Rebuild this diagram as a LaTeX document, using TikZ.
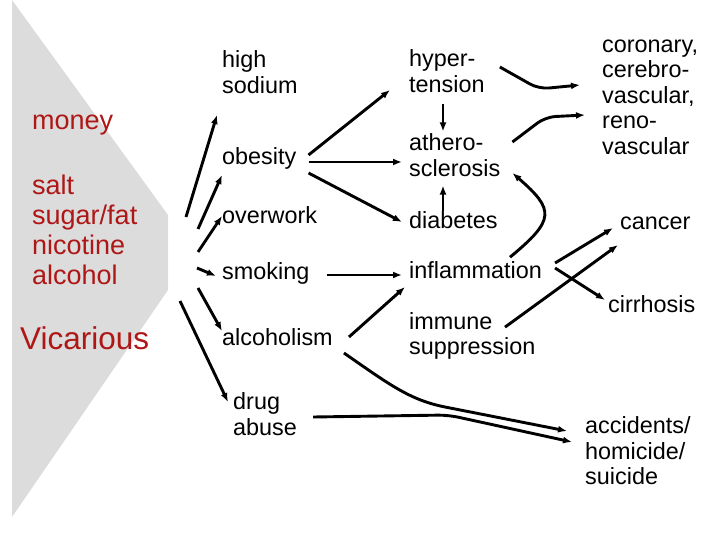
\documentclass[tikz,border=0pt]{standalone}
\usepackage{fontspec}
\setmainfont{Liberation Sans}
\usetikzlibrary{arrows.meta}
\definecolor{vred}{RGB}{175,22,22}
\definecolor{wedge}{RGB}{220,220,220}

\begin{document}
\begin{tikzpicture}[x=1pt,y=-1pt,
    lbl/.style={anchor=west, inner sep=0pt, align=left, font=\fontsize{23.4}{25.5}\selectfont},
    cause/.style={anchor=west, inner sep=0pt, align=left, text=vred, font=\fontsize{27}{30}\selectfont},
    arr/.style={line width=2.9pt, -{Latex[length=9pt,width=7pt]}}]

        \useasboundingbox (0,0) rectangle (720,540);

        % Grey wedge on the left
        \coordinate (rim) at (168,215);
        \fill[wedge] (12,0) -- (rim) -- (168,290) -- (12,517) -- cycle;

        % Red causes
        \node[cause] (money) at (32,125) {money};
        \node[cause] (causes) at (32,230) {salt\\sugar/fat\\nicotine\\alcohol};
        \node[cause, font=\fontsize{31.5}{34}\selectfont] (vicarious) at (20,338) {Vicarious};

        % First column: behaviours
        \node[lbl] (sodium) at (222,72) {high\\sodium};
        \node[lbl] (obesity) at (222,158) {obesity};
        \node[lbl] (overwork) at (222,215) {overwork};
        \node[lbl] (smoking) at (222,273) {smoking};
        \node[lbl] (alcoholism) at (222,337) {alcoholism};
        \node[lbl] (drugs) at (233,414) {drug\\abuse};

        % Second column: conditions
        \node[lbl] (hyper) at (409,71) {hyper-\\tension};
        \node[lbl] (athero) at (409,155) {athero-\\sclerosis};
        \node[lbl] (diabetes) at (409,220) {diabetes};
        \node[lbl] (inflam) at (409,270) {inflammation};
        \node[lbl] (immune) at (409,336) {immune\\suppression};

        % Third column: outcomes
        \node[lbl] (cvd) at (602,97) {coronary,\\cerebro-\\vascular,\\reno-\\vascular};
        \node[lbl] (cancer) at (620,223) {cancer};
        \node[lbl] (cirrhosis) at (608,304) {cirrhosis};
        \node[lbl] (accidents) at (585,451) {accidents/\\homicide/\\suicide};

        % Fan out of the wedge
        \draw[arr] ([shift={(18,2)}]rim) -- ([shift={(-5,43)}]sodium.west);
        \draw[arr] ([shift={(30,14)}]rim) -- ([shift={(0,17)}]obesity.west);
        \draw[arr] ([shift={(30,37)}]rim) -- ([shift={(0,1)}]overwork.west);
        \draw[arr] ([shift={(29,53)}]rim) -- ([shift={(-6,3)}]smoking.west);
        \draw[arr] ([shift={(30,73)}]rim) -- ([shift={(0,-6)}]alcoholism.west);
        \draw[arr] ([shift={(12,86)}]rim) -- ([shift={(-5,-12)}]drugs.west);

        % Behaviours to conditions
        \draw[arr] ([shift={(12,-3)}]obesity.east) -- ([shift={(-19,19)}]hyper.west);
        \draw[arr] ([shift={(12,4)}]obesity.east) -- ([shift={(-7,7)}]athero.west);
        \draw[arr] ([shift={(12,15)}]obesity.east) -- ([shift={(-7,2)}]diabetes.west);
        \draw[arr] ([shift={(17,2)}]smoking.east) -- ([shift={(-7,5)}]inflam.west);
        \draw[arr] ([shift={(16,0)}]alcoholism.east) -- ([shift={(-4,17)}]inflam.west);

        % Between conditions
        \draw[arr] ([shift={(34,11)}]hyper.south west) -- ([shift={(34,-2)}]athero.north west);
        \draw[arr] ([shift={(34,0)}]diabetes.north west) -- ([shift={(34,9)}]athero.south west);
        \draw[arr] ([shift={(101,-4)}]inflam.north west) .. controls (555,220) and (555,210) .. ([shift={(12,18)}]athero.east);

        % Conditions to outcomes
        \draw[arr, rounded corners=10pt] ([shift={(15,-4)}]hyper.east) -- ++(39,22) -- ([shift={(-22,-12)}]cvd.west);
        \draw[arr, rounded corners=10pt] ([shift={(12,-13)}]athero.east) -- ++(33,-25) -- ([shift={(-17,18)}]cvd.west);
        \draw[arr] ([shift={(13,-7)}]inflam.east) -- ([shift={(-7,5)}]cancer.west);
        \draw[arr] ([shift={(13,-2)}]inflam.east) -- ([shift={(-3,-4)}]cirrhosis.west);
        \draw[arr] ([shift={(96,15)}]immune.north west) -- ([shift={(-2,22)}]cancer.west);
        \draw[arr] ([shift={(11,16)}]alcoholism.east) .. controls (390,385) and (410,400) .. (445,407) -- ([shift={(-18,-20)}]accidents.west);
        \draw[arr, rounded corners=10pt] ([shift={(16,3)}]drugs.east) -- ++(135,-2) -- ([shift={(-13,-9)}]accidents.west);

    \end{tikzpicture}
\end{document}
